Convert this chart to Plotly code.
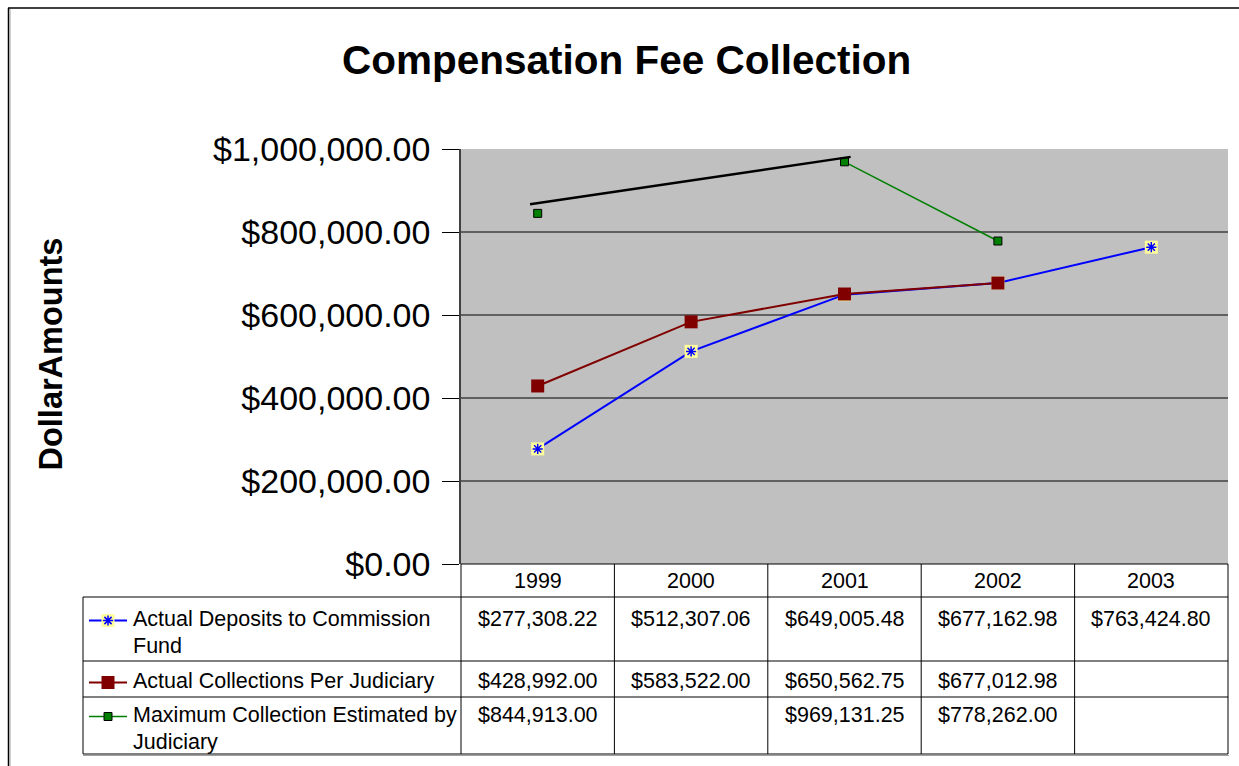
import plotly.graph_objects as go

# ---------------- data ----------------
years = ["1999", "2000", "2001", "2002", "2003"]
series_names = [
    "Actual Deposits to Commission<br>Fund",
    "Actual Collections Per Judiciary",
    "Maximum Collection Estimated by<br>Judiciary",
]
deposits = [277308.22, 512307.06, 649005.48, 677162.98, 763424.80]
collections = [428992.00, 583522.00, 650562.75, 677012.98, None]
max_estimated = [844913.00, None, 969131.25, 778262.00, None]
# hand-drawn black line in the original chart (category position, value)
drawn_line_x = [-0.05, 2.04]
drawn_line_y = [867000, 981000]
y_ticks = [0, 200000, 400000, 600000, 800000, 1000000]

# ---------------- geometry (pixels) ----------------
W, H = 1239, 766
PL, PR, PT, PB = 461, 1228, 149, 564   # plot area
HEADER_BOTTOM = 597
ROW_BOTTOMS = [661, 697, 754]
ROW_TEXT_Y = [619, 681, 715]
TABLE_LEFT = 83

def px(x):
    return x / W

def py(y):
    return 1 - y / H

FONT = "Liberation Sans, Arial, sans-serif"
xs = list(range(len(years)))

BLUE_BG = dict(symbol="square", size=13, color="#FFFF99")
BLUE_STAR = dict(symbol="asterisk-open", size=8.5, color="#0000FF",
                 line=dict(color="#0000FF", width=1.5))
RED_SQ = dict(symbol="square", size=13, color="#800000")
GREEN_SQ = dict(symbol="square", size=8, color="#008000", line=dict(color="black", width=1))

fig = go.Figure()

# data traces
fig.add_trace(go.Scatter(x=xs, y=max_estimated, mode="lines+markers", connectgaps=False,
                         line=dict(color="#008000", width=1.5), marker=GREEN_SQ,
                         showlegend=False))
fig.add_trace(go.Scatter(x=xs, y=deposits, mode="lines",
                         line=dict(color="#0000FF", width=2), showlegend=False))
fig.add_trace(go.Scatter(x=xs, y=deposits, mode="markers", marker=BLUE_BG, showlegend=False))
fig.add_trace(go.Scatter(x=xs, y=deposits, mode="markers", marker=BLUE_STAR, showlegend=False))
fig.add_trace(go.Scatter(x=xs, y=collections, mode="lines+markers",
                         line=dict(color="#800000", width=2), marker=RED_SQ,
                         showlegend=False))
fig.add_trace(go.Scatter(x=drawn_line_x, y=drawn_line_y, mode="lines",
                         line=dict(color="black", width=2.5), showlegend=False))

# ---------------- table ----------------
shapes = []
ann = []
line_k = dict(color="black", width=1)

col_w = (PR - PL) / len(years)
col_edges = [PL + i * col_w for i in range(len(years) + 1)]

shapes.append(dict(type="line", xref="paper", yref="paper", x0=px(PL), x1=px(PR),
                   y0=py(PB), y1=py(PB), line=line_k))
for yy in [HEADER_BOTTOM] + ROW_BOTTOMS:
    shapes.append(dict(type="line", xref="paper", yref="paper", x0=px(TABLE_LEFT), x1=px(PR),
                       y0=py(yy), y1=py(yy), line=line_k))
shapes.append(dict(type="line", xref="paper", yref="paper", x0=px(TABLE_LEFT), x1=px(TABLE_LEFT),
                   y0=py(HEADER_BOTTOM), y1=py(ROW_BOTTOMS[-1]), line=line_k))
for xe in col_edges:
    shapes.append(dict(type="line", xref="paper", yref="paper", x0=px(xe), x1=px(xe),
                       y0=py(PB), y1=py(ROW_BOTTOMS[-1]), line=line_k))
shapes.append(dict(type="line", xref="paper", yref="paper", x0=px(TABLE_LEFT), x1=px(PR + 1),
                   y0=py(ROW_BOTTOMS[-1] + 1.5), y1=py(ROW_BOTTOMS[-1] + 1.5),
                   line=dict(color="#a0a0a0", width=1)))

TF = dict(family=FONT, size=21.5, color="black")
for i, yr in enumerate(years):
    ann.append(dict(x=px(col_edges[i] + col_w / 2), y=py(581), xref="paper", yref="paper",
                    text=yr, showarrow=False, xanchor="center", yanchor="middle", font=TF))

all_series = [deposits, collections, max_estimated]
LINE_H = 26.5
for r, (name, vals) in enumerate(zip(series_names, all_series)):
    yc = ROW_TEXT_Y[r]
    for j, part in enumerate(name.split("<br>")):
        ann.append(dict(x=px(131), y=py(yc + j * LINE_H), xref="paper", yref="paper",
                        text=part, showarrow=False, xanchor="left", yanchor="middle", font=TF))
    for i, v in enumerate(vals):
        if v is None:
            continue
        ann.append(dict(x=px(col_edges[i] + col_w / 2), y=py(yc), xref="paper", yref="paper",
                        text=f"${v:,.2f}", showarrow=False, xanchor="center",
                        yanchor="middle", font=TF))

# legend keys (pixel overlay axes)
key_styles = [
    dict(lc="#0000FF", lw=2, markers=[BLUE_BG, BLUE_STAR]),
    dict(lc="#800000", lw=2, markers=[RED_SQ]),
    dict(lc="#008000", lw=1.5, markers=[GREEN_SQ]),
]
for r, st in enumerate(key_styles):
    ky = ROW_TEXT_Y[r] + 1.5
    fig.add_trace(go.Scatter(x=[89, 127], y=[ky, ky], mode="lines", xaxis="x2", yaxis="y2",
                             line=dict(color=st["lc"], width=st["lw"]), showlegend=False))
    for mk in st["markers"]:
        fig.add_trace(go.Scatter(x=[108], y=[ky], mode="markers", xaxis="x2", yaxis="y2",
                                 marker=mk, showlegend=False))

shapes.insert(0, dict(type="rect", xref="x domain", yref="y domain", x0=0, x1=1, y0=0, y1=1,
                      fillcolor="#C0C0C0", line=dict(width=0), layer="below"))
for v in y_ticks[1:-1]:
    shapes.insert(1, dict(type="line", xref="x domain", yref="y", x0=0, x1=1, y0=v, y1=v,
                          line=dict(color="black", width=1), layer="below"))

# outer chart frame
shapes.append(dict(type="line", xref="paper", yref="paper", x0=px(8), x1=1.01,
                   y0=py(8), y1=py(8), line=dict(color="black", width=1.5)))
shapes.append(dict(type="line", xref="paper", yref="paper", x0=px(8.5), x1=px(8.5),
                   y0=py(8), y1=-0.01, line=dict(color="black", width=1.5)))
shapes.append(dict(type="line", xref="paper", yref="paper", x0=px(10), x1=px(10),
                   y0=py(9), y1=-0.01, line=dict(color="#a0a0a0", width=1)))

ann.append(dict(x=px(626), y=py(60), xref="paper", yref="paper",
                text="<b>Compensation Fee Collection</b>", showarrow=False,
                xanchor="center", yanchor="middle",
                font=dict(family=FONT, size=40.5, color="black")))
ann.append(dict(x=px(50.5), y=py(354), xref="paper", yref="paper",
                text="<b>DollarAmounts</b>", showarrow=False, textangle=-90,
                xanchor="center", yanchor="middle",
                font=dict(family=FONT, size=32.5, color="black")))

fig.update_layout(
    width=W, height=H,
    margin=dict(l=0, r=0, t=0, b=0, autoexpand=False),
    paper_bgcolor="white",
    plot_bgcolor="rgba(0,0,0,0)",
    showlegend=False,
    shapes=shapes,
    annotations=ann,
    xaxis=dict(domain=[px(PL), px(PR)], range=[-0.5, len(years) - 0.5], visible=False,
               fixedrange=True, automargin=False),
    yaxis=dict(domain=[py(PB), py(PT)], range=[0, 1000000], tickvals=y_ticks,
               tickformat="$,.2f", showgrid=False, zeroline=False,
               showline=True, linecolor="#404040", linewidth=1.5,
               ticks="outside", ticklen=17, tickcolor="black", tickwidth=1,
               ticklabelstandoff=5, automargin=False,
               tickfont=dict(family=FONT, size=34, color="black"), fixedrange=True),
    xaxis2=dict(domain=[0, 1], range=[0, W], visible=False, anchor="y2", fixedrange=True,
                automargin=False),
    yaxis2=dict(domain=[0, 1], range=[H, 0], visible=False, anchor="x2", fixedrange=True,
                automargin=False),
)

fig.write_html("out.html", config={"displayModeBar": False},
               post_script="document.body.style.margin='0';document.body.style.overflow='hidden';")
